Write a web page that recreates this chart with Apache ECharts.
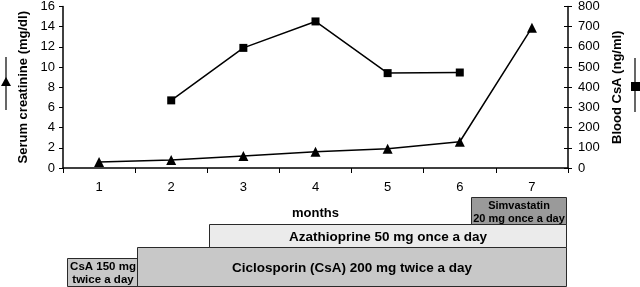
<!DOCTYPE html>
<html><head><meta charset="utf-8">
<script src="https://cdn.jsdelivr.net/npm/echarts@6/dist/echarts.min.js"></script>
<style>html,body{margin:0;padding:0;background:#fff}#c{width:640px;height:287px}</style>
</head><body><div id="c"></div>
<script>
const months = ['1','2','3','4','5','6','7'];
const creatinine = [0.6, 0.8, 1.2, 1.6, 1.9, 2.6, 13.9];
const csaBlood = [null, 335, 595, 726, 470, 473, null];
const leftTicks = [0, 16, 2];
const rightTicks = [0, 800, 100];
// treatment periods: [startMonth, endMonth, levelBottom, levelTop]
const treatNames = ['CsA 150 mg\ntwice a day', 'Ciclosporin (CsA) 200 mg twice a day', 'Azathioprine 50 mg once a day', 'Simvastatin\n20 mg once a day'];
const treatStart = [0.55, 1.53, 2.52, 6.16];
const treatEnd = [1.53, 7.47, 7.47, 7.47];
const treatLow = [0, 0, 39, 62];
const treatHigh = [28, 39, 62, 89];
const treatFill = ['#c8c8c8', '#c8c8c8', '#ebebeb', '#9a9a9a'];
const treatFont = [11.5, 13.5, 13.5, 11];

const FONT = '"Liberation Sans", Arial, sans-serif';
const chart = echarts.init(document.getElementById('c'), null, {renderer: 'canvas'});
const treatData = treatNames.map((n, i) => [treatStart[i], treatEnd[i], treatLow[i], treatHigh[i], i]);

chart.setOption({
  animation: false,
  textStyle: {fontFamily: FONT},
  grid: [
    {left: 63, right: 72, top: 5, bottom: 119},
    {left: 63, right: 72, top: 197, bottom: 1}
  ],
  xAxis: [
    {type: 'category', data: months, gridIndex: 0, boundaryGap: true,
     axisLine: {lineStyle: {color: '#000', width: 1.5}},
     axisTick: {show: true, length: 5, lineStyle: {color: '#000'}},
     axisLabel: {color: '#000', fontSize: 13, margin: 13, fontFamily: FONT},
     name: 'months', nameLocation: 'middle', nameGap: 39,
     nameTextStyle: {color: '#000', fontSize: 13, fontWeight: 'bold', fontFamily: FONT}},
    {type: 'value', gridIndex: 1, min: 0.5, max: 7.5, show: false}
  ],
  yAxis: [
    {type: 'value', gridIndex: 0, min: leftTicks[0], max: leftTicks[1], interval: leftTicks[2],
     axisLine: {show: true, lineStyle: {color: '#000', width: 1.5}},
     axisTick: {show: true, length: 4, lineStyle: {color: '#000'}},
     splitLine: {show: false},
     axisLabel: {color: '#000', fontSize: 13, margin: 8, fontFamily: FONT},
     name: 'Serum creatinine (mg/dl)', nameLocation: 'middle', nameGap: 30, nameRotate: 90,
     nameTextStyle: {color: '#000', fontSize: 13, fontWeight: 'bold', fontFamily: FONT}},
    {type: 'value', gridIndex: 0, position: 'right', min: rightTicks[0], max: rightTicks[1], interval: rightTicks[2],
     axisLine: {show: true, lineStyle: {color: '#000', width: 1.5}},
     axisTick: {show: true, length: 4, lineStyle: {color: '#000'}},
     splitLine: {show: false},
     axisLabel: {color: '#000', fontSize: 13, margin: 10, fontFamily: FONT},
     name: 'Blood CsA (ng/ml)', nameLocation: 'middle', nameGap: 40, nameRotate: 90,
     nameTextStyle: {color: '#000', fontSize: 13, fontWeight: 'bold', fontFamily: FONT}},
    {type: 'value', gridIndex: 0, min: leftTicks[0], max: leftTicks[1], interval: leftTicks[2],
     axisLine: {show: false}, axisLabel: {show: false}, splitLine: {show: false},
     axisTick: {show: true, inside: true, length: 4, lineStyle: {color: '#000'}}},
    {type: 'value', gridIndex: 0, position: 'right', min: rightTicks[0], max: rightTicks[1], interval: rightTicks[2],
     axisLine: {show: false}, axisLabel: {show: false}, splitLine: {show: false},
     axisTick: {show: true, inside: true, length: 4, lineStyle: {color: '#000'}}},
    {type: 'value', gridIndex: 1, min: 0, max: 89, show: false}
  ],
  series: [
    {type: 'line', xAxisIndex: 0, yAxisIndex: 0, data: creatinine,
     symbol: 'triangle', symbolSize: 10,
     lineStyle: {color: '#000', width: 1.5}, itemStyle: {color: '#000'}},
    {type: 'line', xAxisIndex: 0, yAxisIndex: 1, data: csaBlood,
     symbol: 'rect', symbolSize: 8, connectNulls: false,
     lineStyle: {color: '#000', width: 1.5}, itemStyle: {color: '#000'}},
    {type: 'custom', xAxisIndex: 1, yAxisIndex: 4, data: treatData,
     renderItem: function (params, api) {
       const p0 = api.coord([api.value(0), api.value(2)]);
       const p1 = api.coord([api.value(1), api.value(3)]);
       const i = api.value(4);
       const x = Math.round(p0[0]) + 0.5, y = Math.round(p1[1]) + 0.5;
       const w = Math.round(p1[0] - p0[0]), h = Math.round(p0[1] - p1[1]);
       return {type: 'group', children: [
         {type: 'rect', shape: {x: x, y: y, width: w, height: h},
          style: {fill: treatFill[i], stroke: '#2a2a2a', lineWidth: 1}},
         {type: 'text', style: {text: treatNames[i], x: x + w / 2, y: y + h / 2 + 1,
          align: 'center', verticalAlign: 'middle', fill: '#000',
          font: 'bold ' + treatFont[i] + 'px ' + FONT, lineHeight: treatFont[i] + 2}}
       ]};
     }}
  ],
  graphic: [
    {type: 'line', shape: {x1: 6, y1: 57, x2: 6, y2: 110}, style: {stroke: '#000', lineWidth: 1.2}},
    {type: 'polygon', shape: {points: [[6, 77], [1, 86], [11, 86]]}, style: {fill: '#000'}},
    {type: 'line', shape: {x1: 635, y1: 58, x2: 635, y2: 112}, style: {stroke: '#000', lineWidth: 1.2}},
    {type: 'rect', shape: {x: 631, y: 82, width: 9, height: 9}, style: {fill: '#000'}}
  ]
});
</script></body></html>
